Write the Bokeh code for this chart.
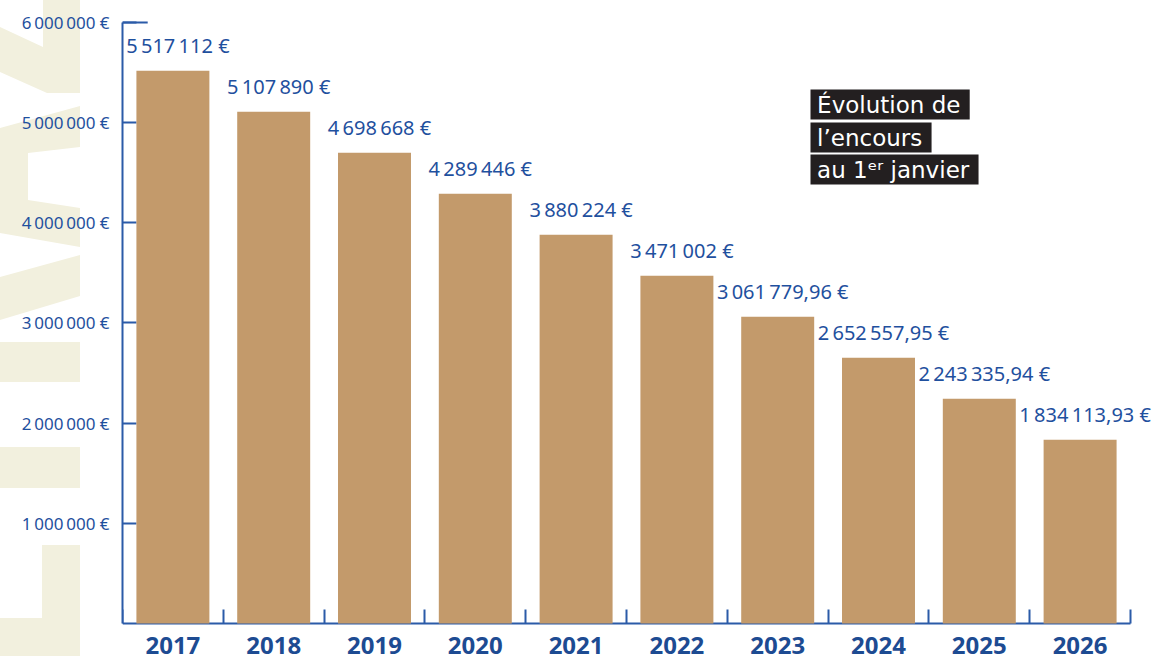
from urllib.parse import quote
from bokeh.plotting import figure
from bokeh.models import (ColumnDataSource, FixedTicker, LabelSet, Label, Range1d,
                          InlineStyleSheet)
from bokeh.core.properties import value
from bokeh.embed import file_html
from bokeh.resources import INLINE

years = ["2017", "2018", "2019", "2020", "2021", "2022", "2023", "2024", "2025", "2026"]
values = [5517112, 5107890, 4698668, 4289446, 3880224, 3471002,
          3061779.96, 2652557.95, 2243335.94, 1834113.93]
y_ticks = [1000000, 2000000, 3000000, 4000000, 5000000, 6000000]
title_lines = ["\u202fÉvolution de\u00a0", "\u202fl’encours\u00a0", "\u202fau 1ᵉʳ janvier\u00a0"]

NS = "\u202f"


def fmt_eur(v, decimals):
    if decimals:
        s = f"{v:,.2f}".replace(",", NS).replace(".", ",")
    else:
        s = f"{int(round(v)):,}".replace(",", NS)
    return s + " €"


labels = [fmt_eur(v, not float(v).is_integer()) for v in values]
xs = [i + 0.5 for i in range(len(years))]

BLUE_AX = "#2b5ba8"
BLUE_TX = "#1f509e"
BAR = "#c39a6b"
BEIGE = "#f2f0de"

W, H = 1164, 656
LEFT = 122
PX_X = 100.8          # pixels per category
ZERO_Y = 623          # pixel row of value 0
PX_Y = 100.17e-6      # pixels per euro

# decorative background shapes (page pixels), drawn as a CSS background
shapes = [
    [(43, 0), (80, 0), (80, 93), (47, 93), (0, 72), (0, 27), (43, 47)],
    [(80, 106), (80, 147), (28, 153), (28, 200), (80, 208), (80, 247), (0, 233), (0, 128)],
    [(80, 255), (80, 296), (0, 320), (0, 277)],
    [(0, 342), (80, 342), (80, 382), (0, 382)],
    [(0, 447), (80, 447), (80, 488), (0, 488)],
    [(42, 545), (80, 545), (80, 660), (0, 660), (0, 618), (42, 618)],
]
svg = "<svg xmlns='http://www.w3.org/2000/svg' width='%d' height='%d'>" % (W, H)
for sh in shapes:
    svg += "<polygon fill='%s' points='%s'/>" % (BEIGE, " ".join(f"{a},{b}" for a, b in sh))
svg += "</svg>"
css = (":host { background-color: white; background-image: url(\"data:image/svg+xml;utf8,%s\");"
       " background-repeat: no-repeat; background-position: 0 0; }" % quote(svg))

src = ColumnDataSource(dict(x=xs, top=values, lab=labels, year=years))

p = figure(width=W, height=H, output_backend="svg", toolbar_location=None,
           x_range=Range1d(0, (W - LEFT) / PX_X),
           y_range=Range1d(-(H - ZERO_Y) / PX_Y, ZERO_Y / PX_Y),
           min_border_left=LEFT, min_border_right=0, min_border_top=0,
           min_border_bottom=0, background_fill_color="white",
           border_fill_alpha=0)
p.stylesheets = [InlineStyleSheet(css=css)]
p.outline_line_color = None
p.grid.visible = False

bars = p.vbar(x="x", top="top", bottom=0, width=0.724, source=src,
              fill_color=BAR, line_color=None)
bars.level = "overlay"

# longer top tick of the value axis
p.segment(x0=[0], y0=[y_ticks[-1]], x1=[0.25], y1=[y_ticks[-1]],
          line_color=BLUE_AX, line_width=2)

# y axis
ya = p.yaxis[0]
ya.bounds = (0, y_ticks[-1])
ya.ticker = FixedTicker(ticks=y_ticks, minor_ticks=[])
ya.major_label_overrides = {t: fmt_eur(t, False) for t in y_ticks}
ya.axis_line_color = BLUE_AX
ya.axis_line_width = 2
ya.major_tick_line_color = BLUE_AX
ya.major_tick_line_width = 2
ya.major_tick_in = 14
ya.major_tick_out = 0
ya.minor_tick_line_color = None
ya.major_label_text_color = BLUE_TX
ya.major_label_text_font = "Noto Sans"
ya.major_label_text_font_size = "17px"
ya.major_label_standoff = 13

# x axis at value 0
xa = p.xaxis[0]
xa.fixed_location = 0
xa.bounds = (0, len(years))
xa.ticker = FixedTicker(ticks=xs, minor_ticks=list(range(len(years) + 1)))
xa.major_label_overrides = {x: y for x, y in zip(xs, years)}
xa.major_tick_line_color = None
xa.major_tick_in = 0
xa.major_tick_out = 0
xa.major_label_standoff = 13
xa.major_label_text_color = "#1d4b92"
xa.major_label_text_font = "Noto Sans"
xa.major_label_text_font_style = "bold"
xa.major_label_text_font_size = "24px"
xa.axis_line_color = BLUE_AX
xa.axis_line_width = 2
xa.minor_tick_line_color = BLUE_AX
xa.minor_tick_line_width = 2
xa.minor_tick_in = 14
xa.minor_tick_out = 0

# value labels
p.add_layout(LabelSet(x="x", y="top", text="lab", source=src, x_offset=5, y_offset=18,
                      text_align="center", text_baseline="alphabetic",
                      text_color=BLUE_TX, text_font=value("Noto Sans"),
                      text_font_size="20px"))

# title box
title_y = [104, 137, 169]
for t, py in zip(title_lines, title_y):
    p.add_layout(Label(x=(810 - LEFT) / PX_X, y=(ZERO_Y - py) / PX_Y, text=t,
                       text_align="left", text_baseline="middle", text_color="white",
                       text_font="DejaVu Sans", text_font_size="23px",
                       background_fill_color="#231f20", background_fill_alpha=1,
                       padding=2))

open("out.html", "w").write(file_html(p, INLINE))
